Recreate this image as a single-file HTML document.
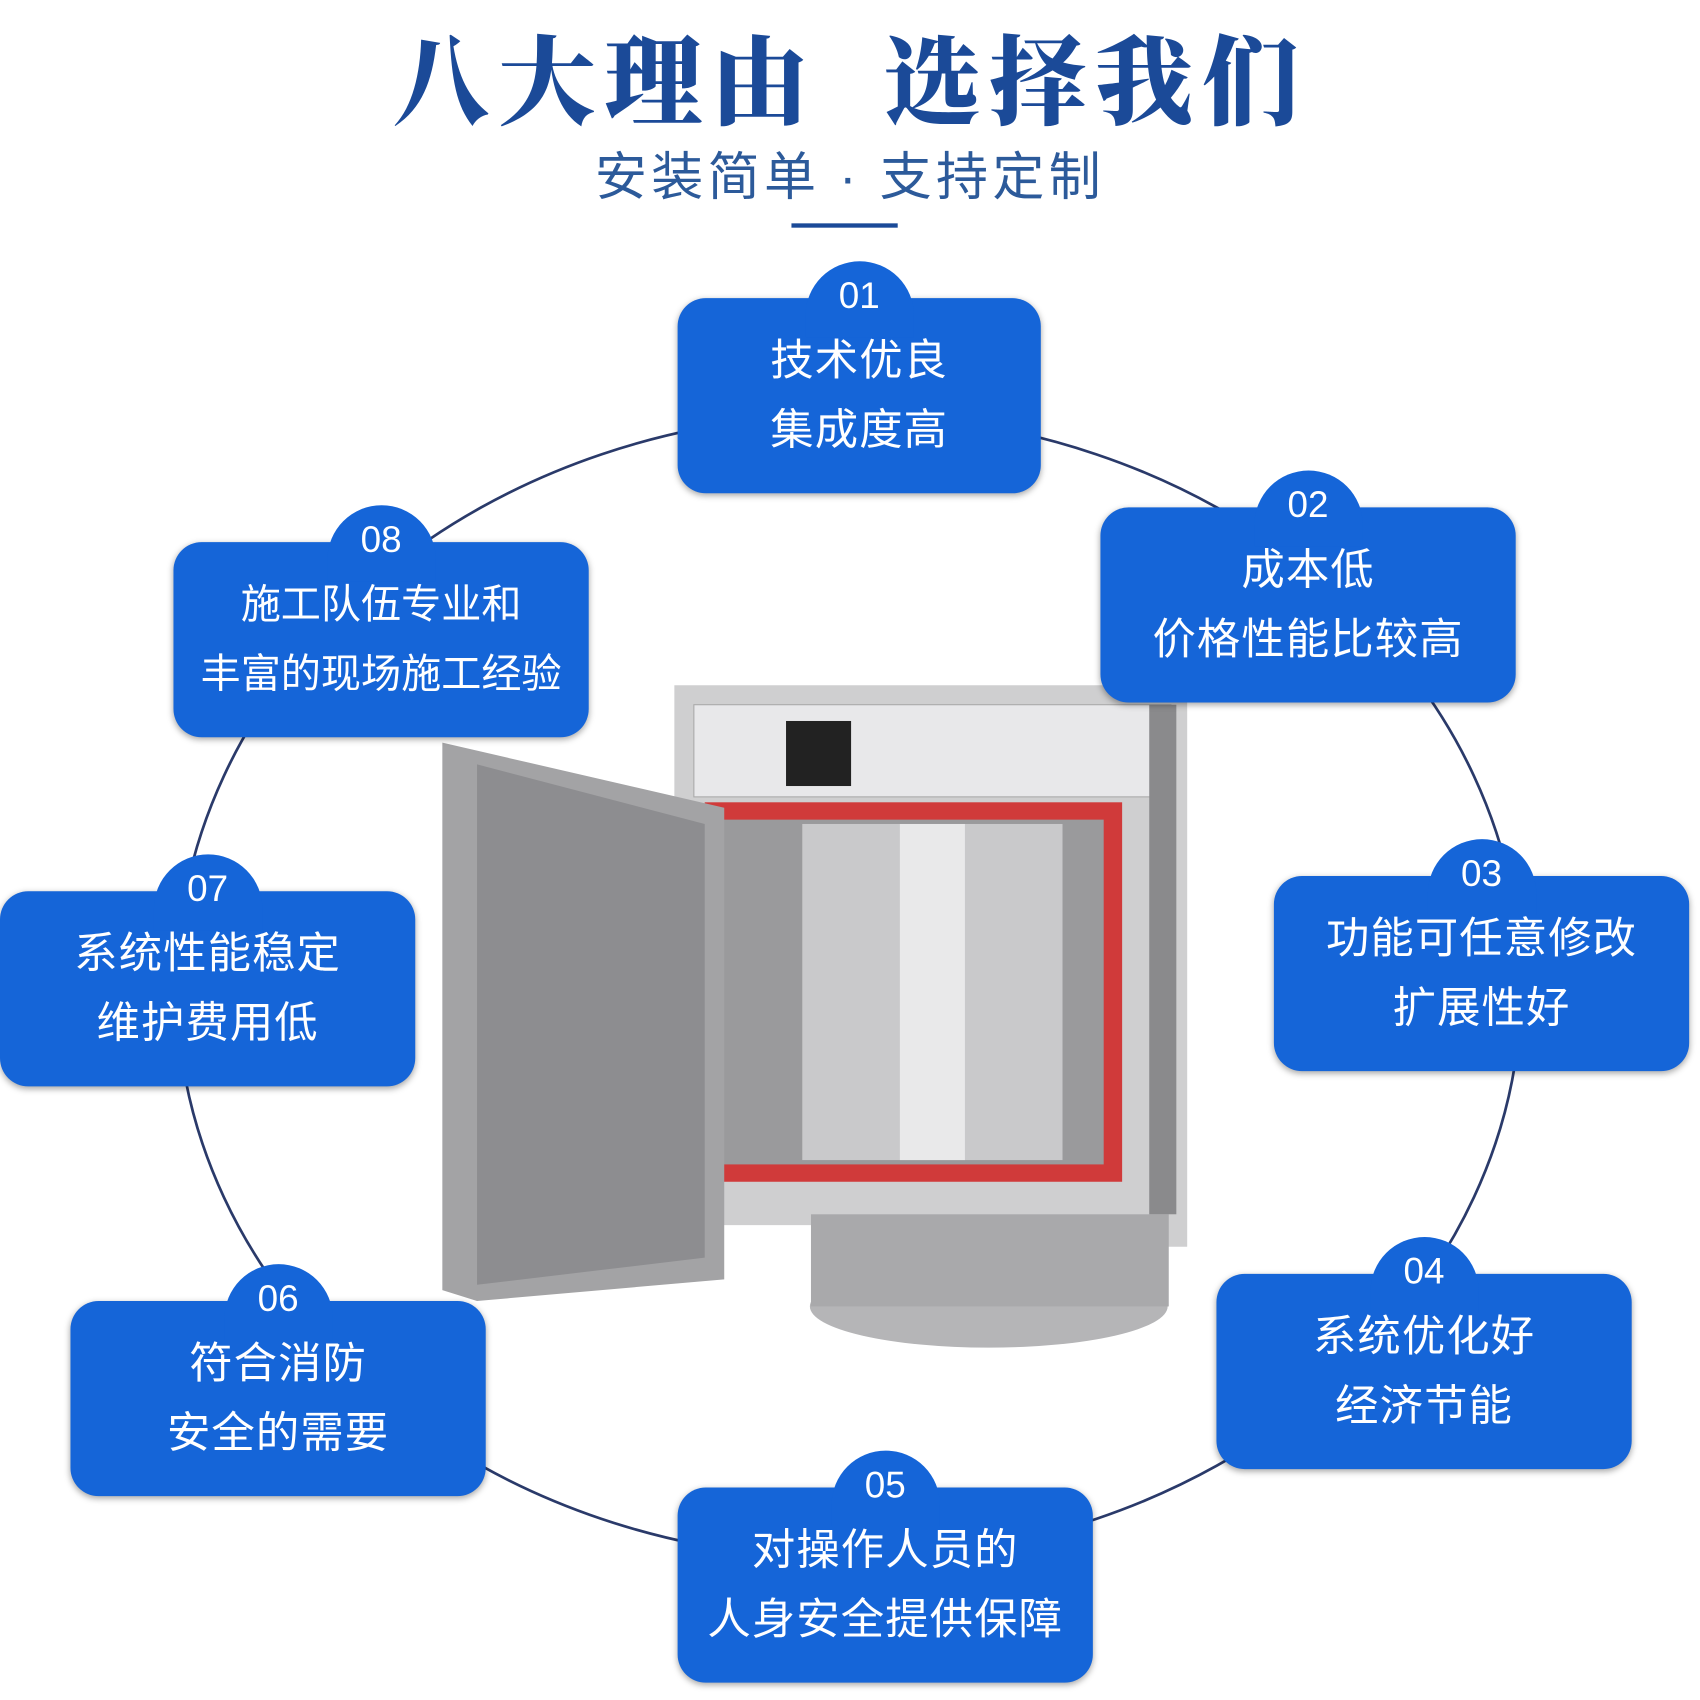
<!DOCTYPE html>
<html><head><meta charset="utf-8"><style>
html,body{margin:0;padding:0;background:#fff;width:1700px;height:1700px;overflow:hidden}
#w{position:absolute;left:0;top:0;width:1568px;height:1568px;transform:scale(1.08418);transform-origin:0 0;font-family:"Liberation Sans","Noto Sans CJK SC",sans-serif}
.t{position:absolute;left:0;width:1568px;text-align:center}
.b{position:absolute;width:383px;height:180px;background:#1565d8;border-radius:26px;box-shadow:0 2px 6px rgba(0,0,0,.35);color:#fff;text-align:center;font-size:40px;line-height:64px;box-sizing:border-box;padding-top:26px;letter-spacing:1px}
.b .n{position:absolute;left:50%;top:-34px;width:100px;height:70px;margin-left:-50px;background:#1565d8;border-radius:50px 50px 0 0;font-size:34px;line-height:64px;letter-spacing:0}
</style></head><body><div id="w">
<div class="t" style="top:4px;font-size:90px;font-weight:900;color:#1b4a98;letter-spacing:8px;font-family:'Noto Serif CJK SC','Noto Sans CJK SC',serif">八大理由&nbsp;&nbsp;选择我们</div>
<div class="t" style="top:124px;font-size:48px;color:#2c5a9a;letter-spacing:4px">安装简单 · 支持定制</div>
<div style="position:absolute;left:730px;top:206px;width:98px;height:4px;background:#1b4a98"></div>
<svg width="1568" height="1568" style="position:absolute;left:0;top:0">
<ellipse cx="783" cy="910" rx="620" ry="528" fill="none" stroke="#2a3a6a" stroke-width="2.5"/>
<polygon points="622,632 1095,632 1095,1150 1040,1150 1040,1130 622,1130" fill="#cfcfd0"/>
<rect x="640" y="650" width="440" height="85" fill="#e8e8ea" stroke="#aaa"/>
<rect x="725" y="665" width="60" height="60" fill="#222"/>
<rect x="650" y="740" width="385" height="350" fill="#d03a3a"/>
<rect x="666" y="756" width="352" height="318" fill="#9a9a9c"/>
<rect x="740" y="760" width="240" height="310" fill="#c9c9cb"/>
<rect x="830" y="760" width="60" height="310" fill="#e9e9ea"/>
<ellipse cx="912" cy="1205" rx="165" ry="38" fill="#b5b5b7"/>
<rect x="748" y="1120" width="330" height="85" fill="#a9a9ab"/>
<polygon points="408,685 668,745 668,1180 440,1200 408,1190" fill="#a3a3a5"/>
<polygon points="440,705 650,760 650,1160 440,1185" fill="#8d8d90"/>
<rect x="1060" y="650" width="25" height="470" fill="#8a8a8c"/>
</svg>
<div class="b" style="left:625px;top:275px;width:335px"><div class="n">01</div>技术优良<br>集成度高</div>
<div class="b" style="left:1015px;top:468px"><div class="n">02</div>成本低<br>价格性能比较高</div>
<div class="b" style="left:1175px;top:808px"><div class="n">03</div>功能可任意修改<br>扩展性好</div>
<div class="b" style="left:1122px;top:1175px"><div class="n">04</div>系统优化好<br>经济节能</div>
<div class="b" style="left:625px;top:1372px"><div class="n">05</div>对操作人员的<br>人身安全提供保障</div>
<div class="b" style="left:65px;top:1200px"><div class="n">06</div>符合消防<br>安全的需要</div>
<div class="b" style="left:0px;top:822px"><div class="n">07</div>系统性能稳定<br>维护费用低</div>
<div class="b" style="left:160px;top:500px;font-size:37px;letter-spacing:0"><div class="n">08</div>施工队伍专业和<br>丰富的现场施工经验</div>
</div></body></html>
